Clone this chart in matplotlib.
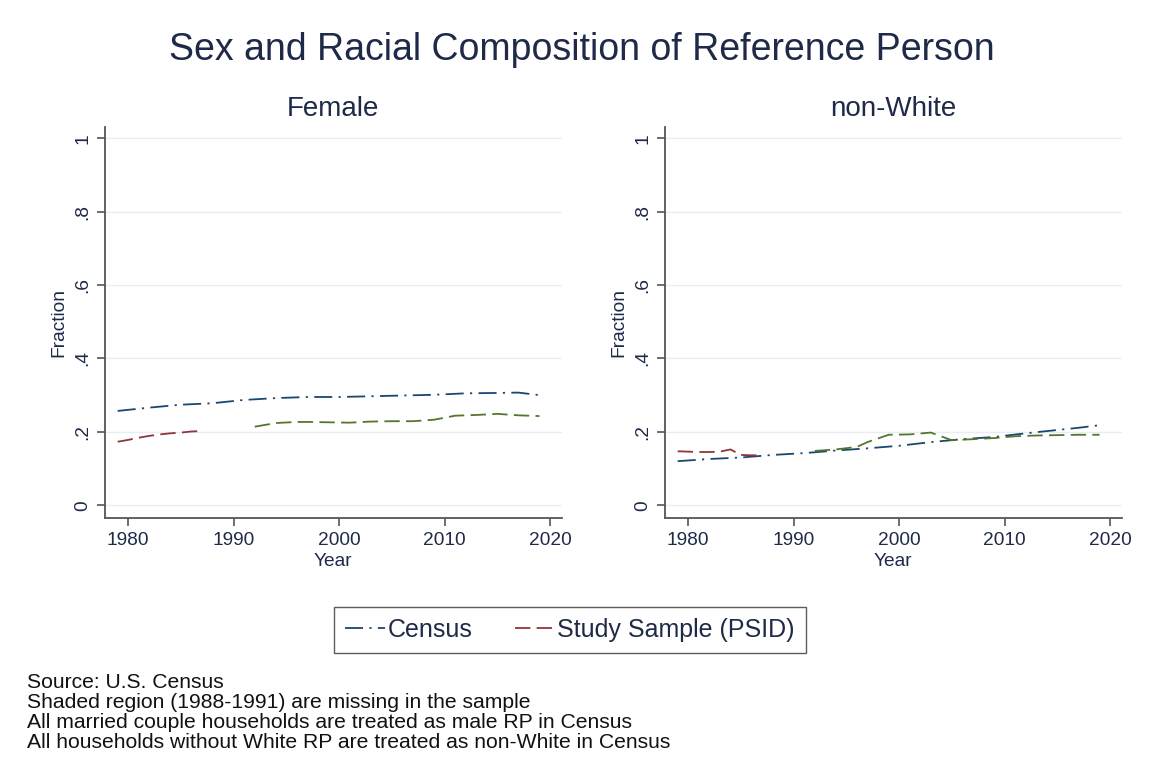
import matplotlib.pyplot as plt

plt.rcParams['font.family'] = ['Liberation Sans', 'DejaVu Sans']

# Census series (both panels)
census_years = [1979, 1982, 1985, 1988, 1991, 1994, 1997, 2000, 2003, 2006, 2009, 2012, 2015, 2017, 2019]
census_female = [0.257, 0.266, 0.274, 0.278, 0.287, 0.292, 0.295, 0.295, 0.297, 0.299, 0.301, 0.305, 0.306, 0.307, 0.300]
census_nonwhite = [0.120, 0.126, 0.130, 0.137, 0.142, 0.149, 0.155, 0.162, 0.172, 0.180, 0.186, 0.196, 0.205, 0.211, 0.218]

# PSID study sample, early waves
psid_early_years = [1979, 1980, 1981, 1982, 1983, 1984, 1985, 1986, 1987]
psid_early_female = [0.173, 0.178, 0.184, 0.189, 0.193, 0.196, 0.198, 0.201, 0.202]
psid_early_nonwhite = [0.147, 0.146, 0.145, 0.145, 0.146, 0.152, 0.137, 0.136, 0.136]

# PSID study sample, later waves
psid_late_years = [1992, 1994, 1996, 1997, 1999, 2001, 2003, 2005, 2007, 2009, 2011, 2013, 2015, 2017, 2019]
psid_late_female = [0.214, 0.224, 0.227, 0.227, 0.226, 0.225, 0.228, 0.229, 0.229, 0.233, 0.244, 0.246, 0.249, 0.245, 0.243]
psid_late_nonwhite = [0.148, 0.152, 0.159, 0.172, 0.192, 0.193, 0.198, 0.177, 0.180, 0.183, 0.188, 0.190, 0.191, 0.192, 0.192]

panels = ['Female', 'non-White']
yticks = [0, 0.2, 0.4, 0.6, 0.8, 1.0]
ytick_labels = ['0', '.2', '.4', '.6', '.8', '1']
xticks = [1980, 1990, 2000, 2010, 2020]

navy = '#1a476f'
maroon = '#90353b'
green = '#55752f'
text_col = '#1f2a48'

census_ls = (0, (10, 3.5, 1.2, 3.5))
psid_ls = (0, (8.5, 3.5))

fig = plt.figure(figsize=(11.59, 7.74), dpi=100, facecolor='white')

series = [
    (census_female, psid_early_female, psid_late_female),
    (census_nonwhite, psid_early_nonwhite, psid_late_nonwhite),
]
lefts = [0.0906, 0.5738]
handles = []
for left, name, (cen, early, late) in zip(lefts, panels, series):
    ax = fig.add_axes([left, 0.3307, 0.394, 0.5052])
    for t in yticks:
        ax.axhline(t, color='#e6eff0', lw=1.0, zorder=0)
    h1, = ax.plot(census_years, cen, color=navy, lw=1.3, ls=census_ls, label='Census')
    h2, = ax.plot(psid_early_years, early, color=maroon, lw=1.3, ls=psid_ls,
                  label='Study Sample (PSID)')
    ax.plot(psid_late_years, late, color=green, lw=1.3, ls=psid_ls)
    handles = [h1, h2]

    ax.set_xlim(1977.8, 2021.1)
    ax.set_ylim(-0.035, 1.031)
    ax.set_xticks(xticks)
    ax.set_yticks(yticks)
    ax.set_yticklabels(ytick_labels, rotation=90, va='center')
    ax.tick_params(direction='out', length=6, width=1.2, color='#555555',
                   labelsize=13.8, labelcolor=text_col, pad=4)
    for s in ['top', 'right']:
        ax.spines[s].set_visible(False)
    for s in ['left', 'bottom']:
        ax.spines[s].set_color('#555555')
        ax.spines[s].set_linewidth(1.3)
    ax.set_xlabel('Year', fontsize=13.8, color=text_col, labelpad=3)
    ax.set_ylabel('Fraction', fontsize=13.8, color=text_col, labelpad=5)
    ax.set_title(name, fontsize=20, color=text_col, pad=8)

fig.suptitle('Sex and Racial Composition of Reference Person', fontsize=27,
             color=text_col, x=0.502, y=0.936, va='center')

leg = fig.legend(handles, ['Census', 'Study Sample (PSID)'], loc='center',
                 bbox_to_anchor=(0.4918, 0.186), ncol=2, fontsize=18,
                 frameon=True, fancybox=False, handlelength=1.6,
                 handletextpad=0.1, columnspacing=1.7, borderpad=0.45)
leg.get_frame().set_edgecolor('#333333')
leg.get_frame().set_linewidth(1.0)
for t in leg.get_texts():
    t.set_color(text_col)

notes = ('Source: U.S. Census\n'
         'Shaded region (1988-1991) are missing in the sample\n'
         'All married couple households are treated as male RP in Census\n'
         'All households without White RP are treated as non-White in Census')
fig.text(0.0235, 1 - 673 / 774, notes, fontsize=15.2, color='#111111',
         va='top', ha='left', linespacing=1.06)

plt.savefig('out.png', dpi=100, facecolor='white')
